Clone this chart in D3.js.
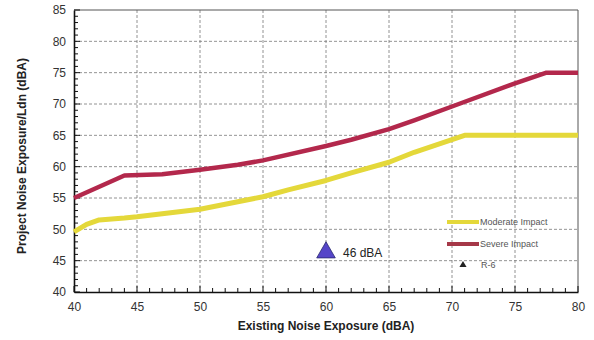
<!DOCTYPE html>
<html><head><meta charset="utf-8">
<script src="https://cdn.jsdelivr.net/npm/d3@7"></script>
<style>body{margin:0;background:#fff}</style>
</head><body>
<svg id="c" width="594" height="340"></svg>
<script>
const moderateX = [40, 41, 42, 44, 45, 47, 50, 52, 55, 57, 60, 62, 65, 67, 70, 71, 80];
const moderateY = [49.6, 50.8, 51.5, 51.8, 52.0, 52.5, 53.2, 54.0, 55.2, 56.3, 57.8, 59.0, 60.7, 62.3, 64.3, 65.0, 65.0];
const severeX = [40, 44, 47, 50, 53, 55, 60, 62, 65, 67, 70, 75, 77.5, 80];
const severeY = [55.0, 58.6, 58.8, 59.5, 60.3, 61.0, 63.3, 64.3, 66.0, 67.4, 69.6, 73.3, 75.0, 75.0];
const receptorX = [60];
const receptorY = [46.3];
const receptorLabel = ["46 dBA"];
const xTicks = [40, 45, 50, 55, 60, 65, 70, 75, 80];
const yTicks = [40, 45, 50, 55, 60, 65, 70, 75, 80, 85];
const legendNames = ["Moderate Impact", "Severe Impact", "R-6"];

const svg = d3.select("#c");
const L = 74, R = 578, T = 10, B = 292;
const x = d3.scaleLinear().domain([40, 80]).range([L, R]);
const y = d3.scaleLinear().domain([40, 85]).range([B, T]);
const font = "Arial, 'Liberation Sans', sans-serif";

// grid
svg.append("g").selectAll("line").data(xTicks.slice(1, -1)).join("line")
  .attr("x1", d => x(d)).attr("x2", d => x(d)).attr("y1", T).attr("y2", B)
  .attr("stroke", "#777").attr("stroke-width", 0.8).attr("stroke-dasharray", "3,2");
svg.append("g").selectAll("line").data(yTicks.slice(1, -1)).join("line")
  .attr("y1", d => y(d)).attr("y2", d => y(d)).attr("x1", L).attr("x2", R)
  .attr("stroke", "#777").attr("stroke-width", 0.8).attr("stroke-dasharray", "3,2");
// frame top/right
svg.append("line").attr("x1", L).attr("x2", R).attr("y1", T).attr("y2", T).attr("stroke", "#555").attr("stroke-width", 1);
svg.append("line").attr("x1", R).attr("x2", R).attr("y1", T).attr("y2", B).attr("stroke", "#555").attr("stroke-width", 1);

// axes
const xAxis = d3.axisBottom(x).tickValues(xTicks).tickSize(0).tickPadding(10).tickFormat(d3.format("d"));
const gx = svg.append("g").attr("transform", `translate(0,${B})`).call(xAxis);
const yAxis = d3.axisLeft(y).tickValues(yTicks).tickSize(0).tickPadding(8).tickFormat(d3.format("d"));
const gy = svg.append("g").attr("transform", `translate(${L},0)`).call(yAxis);
[gx, gy].forEach(g => {
  g.select(".domain").attr("stroke", "#111").attr("stroke-width", 1.6);
  g.selectAll("text").attr("font-family", font).attr("font-size", 12).attr("fill", "#333");
});
// minor/major inward ticks
const xm = d3.range(40, 81, 1), ym = d3.range(40, 86, 1);
svg.append("g").selectAll("line").data(xm).join("line")
  .attr("x1", d => x(d)).attr("x2", d => x(d)).attr("y1", B).attr("y2", d => B - (d % 5 === 0 ? 6 : 4))
  .attr("stroke", "#111").attr("stroke-width", 1);
svg.append("g").selectAll("line").data(ym).join("line")
  .attr("y1", d => y(d)).attr("y2", d => y(d)).attr("x1", L).attr("x2", d => L + (d % 5 === 0 ? 6 : 4))
  .attr("stroke", "#111").attr("stroke-width", 1);

// lines
const line = d3.line().x(d => x(d[0])).y(d => y(d[1]));
svg.append("path").datum(d3.zip(moderateX, moderateY)).attr("d", line)
  .attr("fill", "none").attr("stroke", "#e4d83a").attr("stroke-width", 5).attr("stroke-linejoin", "round");
svg.append("path").datum(d3.zip(severeX, severeY)).attr("d", line)
  .attr("fill", "none").attr("stroke", "#b3284c").attr("stroke-width", 4.5).attr("stroke-linejoin", "round");

// receptor
const tri = d3.symbol().type(d3.symbolTriangle);
svg.append("g").selectAll("path").data(d3.zip(receptorX, receptorY)).join("path")
  .attr("d", tri.size(150)()).attr("transform", d => `translate(${x(d[0])},${y(d[1])})`)
  .attr("fill", "#5545c8").attr("stroke", "#2a2a70").attr("stroke-width", 0.8);
svg.append("g").selectAll("text").data(d3.zip(receptorX, receptorY, receptorLabel)).join("text")
  .attr("x", d => x(d[0]) + 17).attr("y", d => y(d[1]) + 4)
  .attr("font-family", font).attr("font-size", 12).attr("fill", "#222").text(d => d[2]);

// legend
const lg = svg.append("g").attr("font-family", font).attr("font-size", 9).attr("fill", "#555");
const colors = ["#e4d83a", "#a53848"];
[0, 1].forEach(i => {
  lg.append("line").attr("x1", 447).attr("x2", 479).attr("y1", 222 + i * 22).attr("y2", 222 + i * 22)
    .attr("stroke", colors[i]).attr("stroke-width", 4);
  lg.append("text").attr("x", 480).attr("y", 225 + i * 22).text(legendNames[i]);
});
lg.append("path").attr("d", d3.symbol().type(d3.symbolTriangle).size(22)()).attr("transform", "translate(463,265)").attr("fill", "#222");
lg.append("text").attr("x", 481).attr("y", 268).text(legendNames[2]);

// titles
svg.append("text").attr("x", (L + R) / 2 - 0).attr("y", 330).attr("text-anchor", "middle")
  .attr("font-family", font).attr("font-size", 12).attr("font-weight", "bold").attr("fill", "#222")
  .text("Existing Noise Exposure (dBA)");
svg.append("text").attr("transform", `translate(26,${(T + B) / 2 + 5}) rotate(-90)`).attr("text-anchor", "middle")
  .attr("font-family", font).attr("font-size", 12).attr("font-weight", "bold").attr("fill", "#222")
  .text("Project Noise Exposure/Ldn (dBA)");
</script>
</body></html>
